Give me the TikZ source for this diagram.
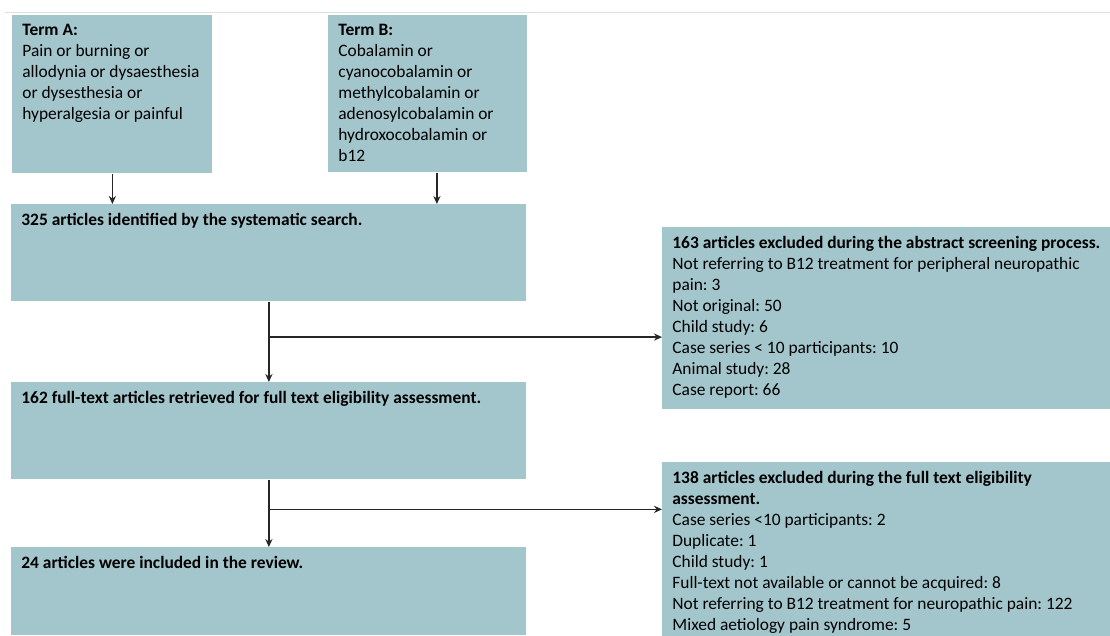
\documentclass[tikz,border=0pt]{standalone}
\usepackage{fontspec}
\setmainfont{Carlito}
\usetikzlibrary{arrows.meta,calc}
\definecolor{boxfill}{RGB}{163,198,204}
\newcommand{\boxtext}[3]{\parbox[t][#2][t]{#1}{\raggedright\frenchspacing #3}}
\tikzset{
  flowbox/.style={fill=boxfill, anchor=north west, inner xsep=5pt, inner ysep=4.5pt,
    font=\fontsize{8.7}{10.5}\selectfont},
  arr/.style={-{Stealth[length=4pt,width=3.6pt]}, line width=0.6pt, draw=black!85}
}
\begin{document}
\begin{tikzpicture}[x=0.5pt,y=-0.5pt]
    \useasboundingbox (0,0) rectangle (1110,636);
    % Draw the thin rule on top
    \draw[black!12, line width=0.5pt] (5,13) -- (1110,13);
    % Draw the search terms
    \node[flowbox] (ta) at (12,15) {\boxtext{90pt}{70pt}{\textbf{Term A:}\\
      Pain or burning or\\ allodynia or dysaesthesia\\ or dysesthesia or\\
      hyperalgesia or painful}};
    \node[flowbox] (tb) at (328,15) {\boxtext{89.5pt}{69.5pt}{\textbf{Term B:}\\
      Cobalamin or\\ cyanocobalamin or\\ methylcobalamin or\\
      adenosylcobalamin or\\ hydroxocobalamin or\\ b12}};
    % Draw the main column
    \node[flowbox] (found) at (11,204) {\boxtext{247.5pt}{39.5pt}{\textbf{325 articles identified by the systematic search.}}};
    \node[flowbox] (fulltext) at (11,382) {\boxtext{247.5pt}{39.5pt}{\textbf{162 full-text articles retrieved for full text eligibility assessment.}}};
    \node[flowbox] (included) at (11,547) {\boxtext{247.5pt}{35pt}{\textbf{24 articles were included in the review.}}};
    % Draw the exclusions
    \node[flowbox] (exabs) at (662,227) {\boxtext{214pt}{82pt}{\textbf{163 articles excluded during the abstract screening process.}\\
      Not referring to B12 treatment for peripheral neuropathic\\ pain: 3\\
      Not original: 50\\ Child study: 6\\ Case series < 10 participants: 10\\
      Animal study: 28\\ Case report: 66}};
    \node[flowbox] (exfull) at (662,462) {\boxtext{214pt}{78pt}{\textbf{138 articles excluded during the full text eligibility}\\
      \textbf{assessment.}\\ Case series <10 participants: 2\\ Duplicate: 1\\
      Child study: 1\\ Full-text not available or cannot be acquired: 8\\
      Not referring to B12 treatment for neuropathic pain: 122\\
      Mixed aetiology pain syndrome: 5}};
    % Draw the arrows
    \draw[arr] (ta.south) -- (ta.south |- found.north);
    \draw[arr] ($(tb.south)+(9,0)$) -- ($(tb.south |- found.north)+(9,0)$);
    \coordinate (j1) at ($(found.south)!0.44!(fulltext.north)$);
    \coordinate (j2) at ($(fulltext.south)!0.44!(included.north)$);
    \draw[arr] (found.south) -- (fulltext.north);
    \draw[arr] (j1) -- (j1 -| exabs.west);
    \draw[arr] (fulltext.south) -- (included.north);
    \draw[arr] (j2) -- (j2 -| exfull.west);
  \end{tikzpicture}
\end{document}
